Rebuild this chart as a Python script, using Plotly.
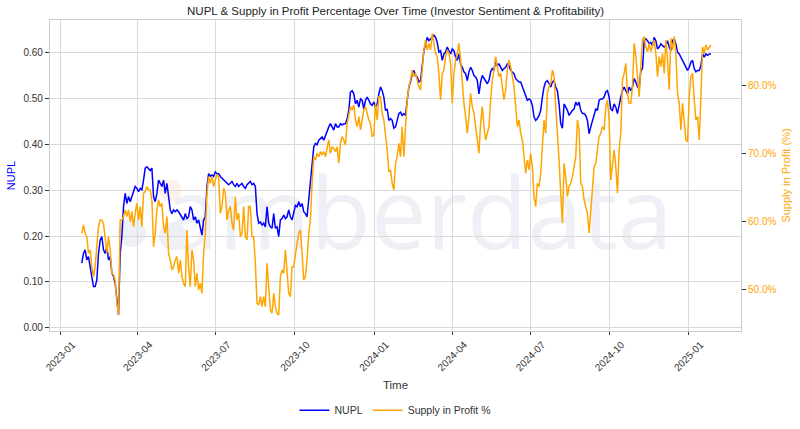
import plotly.graph_objects as go
import pandas as pd

# NUPL values (sampled ~every 2 days, 2023-01-26 .. 2025-01-27)
nupl = [
    # late Jan - early Apr 2023
    0.141, 0.162, 0.170, 0.148, 0.155, 0.133, 0.119, 0.090, 0.090, 0.104,
    0.162, 0.191, 0.199, 0.170, 0.162, 0.177, 0.148, 0.155, 0.119, 0.112,
    0.097, 0.054, 0.028, 0.162, 0.199, 0.264, 0.293, 0.271, 0.286, 0.275,
    0.286, 0.293, 0.308, 0.304, 0.297, 0.304, 0.301, 0.322, 0.348, 0.351,
    0.348,
    # Apr - Jun 2023
    0.343, 0.348, 0.286, 0.275, 0.293, 0.322, 0.315, 0.308, 0.322, 0.293,
    0.315, 0.286, 0.257, 0.249, 0.257, 0.253, 0.257, 0.253, 0.246, 0.242,
    0.235, 0.249, 0.238, 0.242, 0.264, 0.257, 0.235, 0.242, 0.228, 0.235,
    0.220, 0.202, 0.235, 0.242, 0.308, 0.336, 0.330, 0.333, 0.330, 0.340,
    0.336, 0.336, 0.330, 0.326, 0.322, 0.319, 0.315, 0.312,
    # Jul - Oct 2023
    0.315, 0.319, 0.312, 0.308, 0.315, 0.308, 0.312, 0.315, 0.308, 0.304,
    0.312, 0.315, 0.319, 0.312, 0.315, 0.308, 0.249, 0.228, 0.231, 0.224,
    0.228, 0.220, 0.264, 0.228, 0.220, 0.217, 0.249, 0.217, 0.220, 0.199,
    0.235, 0.238, 0.246, 0.238, 0.242, 0.257, 0.242, 0.235, 0.249, 0.267,
    0.264, 0.275, 0.264, 0.271, 0.253, 0.249, 0.242, 0.280,
    # Oct 2023 - Jan 2024
    0.315, 0.365, 0.394, 0.402, 0.399, 0.409, 0.413, 0.416, 0.409, 0.420,
    0.431, 0.438, 0.445, 0.438, 0.431, 0.445, 0.438, 0.438, 0.445, 0.442,
    0.445, 0.445, 0.456, 0.474, 0.514, 0.517, 0.510, 0.488, 0.496, 0.481,
    0.499, 0.496, 0.477, 0.496, 0.503, 0.496, 0.488, 0.485, 0.492, 0.481,
    0.488, 0.510, 0.525, 0.517, 0.503, 0.474, 0.477, 0.452,
    # Jan - Apr 2024
    0.456, 0.452, 0.435, 0.438, 0.452, 0.467, 0.470, 0.463, 0.467, 0.463,
    0.496, 0.525, 0.536, 0.554, 0.561, 0.550, 0.547, 0.536, 0.539, 0.575,
    0.604, 0.619, 0.633, 0.626, 0.630, 0.633, 0.638, 0.633, 0.622, 0.601,
    0.604, 0.583, 0.597, 0.601, 0.612, 0.604, 0.597, 0.608, 0.604, 0.590,
    0.583, 0.597, 0.575, 0.568, 0.558, 0.554, 0.539, 0.558,
    # Apr - Jul 2024
    0.568, 0.561, 0.550, 0.547, 0.539, 0.510, 0.536, 0.550, 0.543, 0.536,
    0.532, 0.539, 0.558, 0.565, 0.561, 0.583, 0.572, 0.575, 0.568, 0.561,
    0.565, 0.568, 0.575, 0.572, 0.561, 0.558, 0.554, 0.543, 0.539, 0.536,
    0.536, 0.525, 0.514, 0.503, 0.496, 0.499, 0.496, 0.485, 0.460, 0.452,
    0.456, 0.463, 0.474, 0.503, 0.525, 0.536, 0.539, 0.532,
    # Jul - Oct 2024
    0.525, 0.536, 0.539, 0.525, 0.517, 0.488, 0.445, 0.435, 0.488, 0.481,
    0.474, 0.463, 0.470, 0.474, 0.477, 0.492, 0.485, 0.492, 0.474, 0.467,
    0.467, 0.463, 0.452, 0.423, 0.438, 0.452, 0.460, 0.477, 0.474, 0.496,
    0.499, 0.499, 0.503, 0.514, 0.517, 0.503, 0.477, 0.474, 0.488, 0.481,
    0.467, 0.488, 0.503, 0.517, 0.525, 0.517, 0.510, 0.525,
    # Oct 2024 - Jan 2025
    0.517, 0.525, 0.543, 0.536, 0.525, 0.521, 0.561, 0.565, 0.626, 0.630,
    0.626, 0.619, 0.622, 0.615, 0.633, 0.626, 0.608, 0.612, 0.619, 0.615,
    0.612, 0.615, 0.626, 0.612, 0.604, 0.626, 0.630, 0.619, 0.601, 0.597,
    0.590, 0.583, 0.575, 0.568, 0.561, 0.568, 0.579, 0.583, 0.565, 0.558,
    0.561, 0.561, 0.572, 0.597, 0.590, 0.597, 0.594, 0.597, 0.597,
]

# Supply in profit (%)
supply_pct = [
    58.24, 59.47, 58.24, 57.74, 55.28, 55.77, 53.31, 51.84, 53.31, 56.27,
    59.22, 60.21, 60.21, 59.72, 57.25, 55.28, 57.74, 55.77, 52.33, 52.08,
    51.34, 47.89, 46.17, 60.21, 60.21, 60.70, 61.68, 60.70, 61.68, 59.96,
    61.44, 59.22, 61.19, 62.67, 60.21, 62.18, 59.22, 64.15, 64.39, 65.13,
    64.64,
    64.64, 63.16, 56.27, 58.24, 61.68, 63.16, 62.18, 62.67, 59.22, 58.24,
    60.70, 55.28, 54.30, 52.82, 53.31, 54.30, 54.79, 52.33, 54.30, 51.84,
    50.85, 50.36, 58.73, 53.31, 50.36, 55.77, 54.30, 50.36, 52.33, 49.87,
    50.85, 49.37, 55.28, 58.24, 64.15, 66.61, 65.62, 66.61, 65.13, 66.12,
    66.85, 66.61, 61.19, 62.18, 64.89, 64.15, 60.21, 61.68,
    62.18, 59.72, 58.73, 63.66, 60.21, 61.19, 57.74, 58.24, 62.18, 57.74,
    57.25, 62.18, 62.18, 57.74, 57.74, 53.80, 47.89, 47.65, 48.88, 47.40,
    48.88, 47.40, 53.80, 50.36, 46.91, 46.42, 49.37, 47.40, 46.42, 46.17,
    51.84, 52.82, 52.33, 55.77, 52.33, 49.37, 48.88, 53.31, 53.31, 55.28,
    56.76, 58.24, 58.73, 55.28, 51.34, 51.84, 54.30, 58.24,
    60.21, 65.62, 69.56, 69.07, 70.06, 69.56, 70.30, 69.81, 70.30, 69.56,
    71.04, 72.02, 70.06, 71.04, 70.79, 70.30, 71.04, 68.58, 71.53, 72.51,
    72.02, 71.29, 74.48, 75.96, 76.95, 76.45, 77.19, 74.98, 73.99, 75.47,
    73.50, 74.98, 76.45, 76.95, 75.96, 74.98, 74.48, 72.51, 72.76, 77.44,
    74.98, 78.42, 78.42, 75.96, 74.98, 73.01, 70.55, 67.35,
    67.59, 65.62, 64.64, 68.58, 69.56, 71.53, 69.56, 73.99, 69.56, 73.99,
    77.93, 79.90, 80.89, 82.36, 81.38, 81.87, 80.89, 79.90, 79.41, 82.36,
    85.32, 86.79, 85.32, 86.30, 85.32, 87.78, 86.30, 84.83, 84.33, 81.87,
    77.93, 81.87, 82.36, 84.33, 85.32, 84.83, 83.35, 77.44, 81.87, 83.84,
    84.83, 86.30, 83.84, 79.90, 77.44, 75.47, 73.01, 75.47,
    78.92, 76.95, 75.96, 73.99, 71.53, 70.06, 74.48, 76.95, 73.99, 72.02,
    73.01, 73.99, 77.93, 80.89, 82.36, 84.33, 82.86, 81.38, 81.87, 79.90,
    77.93, 79.41, 82.36, 83.84, 82.86, 81.38, 79.90, 76.95, 73.99, 74.98,
    73.01, 72.02, 69.07, 67.10, 69.07, 67.59, 70.06, 68.08, 63.66, 62.18,
    65.62, 65.13, 67.10, 71.04, 74.98, 73.01, 78.92, 79.90,
    80.39, 82.36, 81.38, 76.95, 73.50, 69.07, 64.15, 59.72, 68.58, 66.61,
    63.66, 65.13, 65.62, 66.61, 68.08, 69.56, 74.98, 73.50, 65.62, 65.13,
    63.16, 62.18, 61.19, 58.24, 61.19, 64.64, 68.08, 68.58, 71.04, 72.51,
    73.01, 73.99, 73.50, 76.95, 77.93, 74.98, 66.12, 68.58, 70.55, 68.08,
    64.15, 70.55, 73.01, 80.89, 81.87, 83.35, 78.92, 77.44,
    77.44, 79.90, 86.30, 84.33, 81.87, 78.42, 82.86, 86.79, 87.29, 85.81,
    85.07, 86.30, 85.07, 85.81, 86.79, 84.83, 81.38, 84.33, 82.86, 84.83,
    81.87, 86.79, 83.84, 79.41, 87.04, 85.32, 87.29, 84.83, 78.92, 77.44,
    73.50, 77.44, 74.48, 72.02, 71.78, 78.42, 81.38, 81.87, 77.93, 74.98,
    75.47, 72.02, 78.42, 85.81, 84.83, 86.06, 85.32, 85.81, 86.06,
]

start_date = "2023-01-26"
end_date = "2025-01-27"
dates = pd.date_range(start_date, end_date, periods=len(nupl))

x_tick_vals = ["2023-01-01", "2023-04-01", "2023-07-01", "2023-10-01", "2024-01-01",
               "2024-04-01", "2024-07-01", "2024-10-01", "2025-01-01"]
x_tick_text = ["2023-01", "2023-04", "2023-07", "2023-10", "2024-01",
               "2024-04", "2024-07", "2024-10", "2025-01"]
nupl_ticks = [0.0, 0.1, 0.2, 0.3, 0.4, 0.5, 0.6]
nupl_tick_text = ["0.00", "0.10", "0.20", "0.30", "0.40", "0.50", "0.60"]
supply_ticks = [50, 60, 70, 80]
supply_tick_text = ["50.0%", "60.0%", "70.0%", "80.0%"]

FONT = "Liberation Sans, Arial, sans-serif"
GRID = "#d9d9d9"
BLUE = "#0000ff"
ORANGE = "#ffa500"
WM = "#eef0f5"

fig = go.Figure()
fig.add_trace(go.Scatter(x=dates, y=nupl, mode="lines", name="NUPL",
                         line=dict(color=BLUE, width=1.5), yaxis="y"))
fig.add_trace(go.Scatter(x=dates, y=supply_pct, mode="lines", name="Supply in Profit %",
                         line=dict(color=ORANGE, width=1.5), yaxis="y2"))

# faint watermark (logo dots + wordmark) behind the data
for (cx0, cx1, cy0, cy1, col) in [(0.098, 0.139, 0.270, 0.360, WM),
                                  (0.158, 0.190, 0.415, 0.486, "#fbf1ea"),
                                  (0.158, 0.198, 0.260, 0.350, WM)]:
    fig.add_shape(type="circle", xref="paper", yref="paper", x0=cx0, x1=cx1, y0=cy0, y1=cy1,
                  line=dict(width=0), fillcolor=col, layer="below")
fig.add_shape(type="rect", xref="paper", yref="paper", x0=0.133, x1=0.933, y0=0.166, y1=0.566,
              line=dict(width=0), fillcolor="rgba(0,0,0,0)", layer="below",
              label=dict(text="amberdata", textposition="middle center",
                         font=dict(family="Open Sans, sans-serif", size=99, color=WM)))

fig.update_layout(
    width=800, height=429,
    margin=dict(l=50, r=59, t=20, b=98, autoexpand=False),
    paper_bgcolor="white", plot_bgcolor="white",
    font=dict(family=FONT, size=10, color="#333333"),
    title=dict(text="NUPL & Supply in Profit Percentage Over Time (Investor Sentiment & Profitability)",
               x=0.4944, xanchor="center", y=0.974, yanchor="middle",
               font=dict(family=FONT, size=11.5, color="#222222")),
    showlegend=True,
    legend=dict(orientation="h", x=0.5, xanchor="center", y=-0.255, yanchor="middle",
                font=dict(family=FONT, size=10.5, color="#333333"), itemwidth=30,
                bgcolor="rgba(0,0,0,0)"),
    xaxis=dict(
        range=["2022-12-20", "2025-03-03"], automargin=False,
        tickmode="array", tickvals=x_tick_vals, ticktext=x_tick_text,
        tickangle=-45, ticklabelshift=12,
        showgrid=True, gridcolor=GRID, gridwidth=1,
        showline=True, linecolor="#cccccc", linewidth=1.3, mirror=True,
        ticks="outside", ticklen=3, tickcolor="#333333",
        tickfont=dict(size=10, color="#333333"),
        title=dict(text="Time", font=dict(size=11.5, color="#333333"), standoff=8),
        zeroline=False,
    ),
    yaxis=dict(
        range=[-0.007, 0.671], automargin=False,
        tickmode="array", tickvals=nupl_ticks, ticktext=nupl_tick_text,
        showgrid=True, gridcolor=GRID, gridwidth=1,
        showline=True, linecolor="#cccccc", linewidth=1.3, mirror=True,
        ticks="outside", ticklen=4, tickcolor="#333333",
        tickfont=dict(size=10, color="#333333"),
        title=dict(text="NUPL", font=dict(size=11, color=BLUE), standoff=5),
        zeroline=False,
    ),
    yaxis2=dict(
        range=[43.8, 89.75], overlaying="y", side="right", automargin=False,
        tickmode="array", tickvals=supply_ticks, ticktext=supply_tick_text,
        showgrid=False, showline=False,
        ticks="outside", ticklen=4, tickcolor="#333333",
        tickfont=dict(size=10, color=ORANGE),
        title=dict(text="Supply in Profit (%)", font=dict(size=11, color=ORANGE), standoff=6),
        zeroline=False,
    ),
)

fig.write_html("out.html", config={"displayModeBar": False},
               post_script="document.body.style.margin='0px';")
